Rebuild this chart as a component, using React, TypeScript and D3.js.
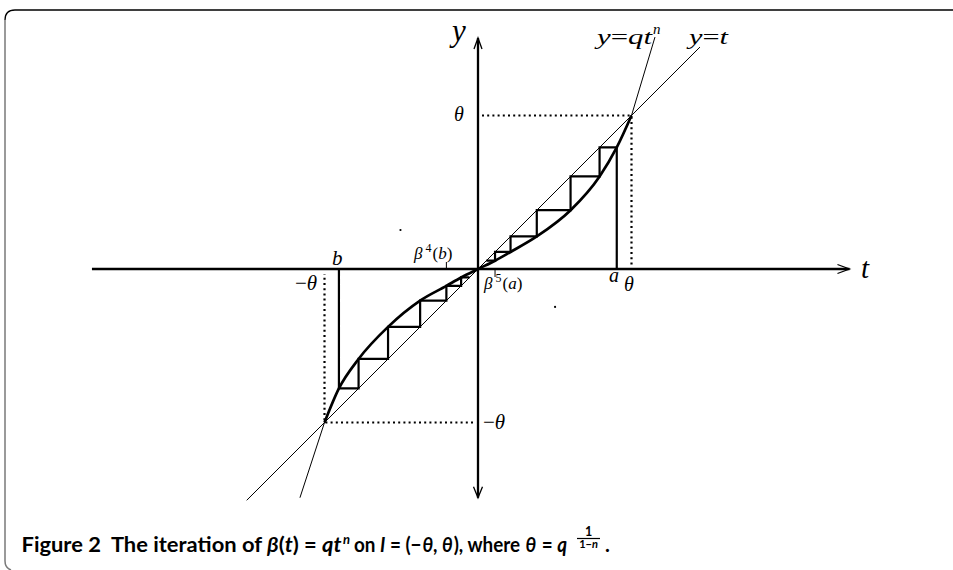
import React from 'react'
import * as d3 from 'd3'

// everything is measured in units of theta (theta = 1)
const theta = 1
// cobweb iterates a, β(a), β²(a), ... and b, β(b), ...
const iteratesA = [0.904, 0.792, 0.603, 0.383, 0.212, 0.111, 0.054]
const iteratesB = [-0.906, -0.778, -0.586, -0.377, -0.206, -0.11, -0.055]
// where the drawn lines stop
const tAxisEnds = [-2.515, 2.42]
const yAxisEnds = [-1.49, 1.505]
const diagonalEnds = [-1.507, 1.446]
// thin continuation of y = q t^n beyond ±theta
const outerTop = [1.153, 1.511]
const outerBottom = [-1.16, -1.49]
// two stray dots in the scan
const strayDots = [[-0.505, 0.254], [0.502, -0.247]]

const x = d3.scaleLinear().domain([0, theta]).range([478, 631.5])
const y = d3.scaleLinear().domain([0, theta]).range([269, 115.5])

const mathFont = '"Liberation Serif", "DejaVu Serif", serif'
const capFont = 'Lato, "Noto Sans", sans-serif'

const cobweb = (it: number[]) => {
  let p = `M${x(it[0])},${y(0)}`
  for (let i = 0; i < it.length - 1; i += 1) {
    p += `L${x(it[i])},${y(it[i + 1])}L${x(it[i + 1])},${y(it[i + 1])}`
  }
  return p
}

// points of the thick curve: (β^k, β^(k+1)) pairs plus origin and ±theta
const curvePoints: [number, number][] = [
  [-theta, -theta],
  ...iteratesB.slice(0, -1).map((v, i) => [v, iteratesB[i + 1]] as [number, number]),
  [0, 0],
  ...iteratesA.slice(0, -1).map((v, i) => [v, iteratesA[i + 1]] as [number, number]).reverse(),
  [theta, theta],
]

const thickCurve = d3.line<[number, number]>()
  .x(d => x(d[0]))
  .y(d => y(d[1]))
  .curve(d3.curveMonotoneX)

const seg = (a: number[], b: number[]) => `M${x(a[0])},${y(a[1])}L${x(b[0])},${y(b[1])}`

export default function App() {
  const tx0 = x(tAxisEnds[0])
  const tx1 = x(tAxisEnds[1])
  const yTop = y(yAxisEnds[1])
  const yBot = y(yAxisEnds[0])
  const ox = x(0)
  const oy = y(0)
  const it = { fontFamily: mathFont, fontStyle: 'italic' as const }

  return (
    <svg
      width={953}
      height={570}
      style={{ position: 'absolute', left: 0, top: 0, background: '#fff' }}
    >
      {/* frame */}
      <path d="M5,20 Q5,10 15,10 L953,10" fill="none" stroke="#000" strokeWidth={1.3} />
      <path d="M5,20 L5,561 Q5,568 11,570" fill="none" stroke="#7a7a7a" strokeWidth={1.5} />

      {/* axes */}
      <g stroke="#000" strokeWidth={2.3} fill="none">
        <path d={`M${tx0},${oy}L${tx1},${oy}`} />
        <path d={`M${ox},${yTop}L${ox},${yBot}`} />
      </g>
      <g stroke="#000" strokeWidth={1.3} fill="none">
        <path d={`M${tx1 - 12},${oy - 4.5}L${tx1},${oy}L${tx1 - 12},${oy + 4.5}`} />
        <path d={`M${ox - 4},${yTop + 11}L${ox},${yTop}L${ox + 4},${yTop + 11}`} />
        <path d={`M${ox - 4.5},${yBot - 11}L${ox},${yBot}L${ox + 4.5},${yBot - 11}`} />
      </g>

      {/* dotted theta box */}
      <g stroke="#000" strokeWidth={2.2} strokeDasharray="2,3.2" fill="none">
        <path d={`M${x(0) + 4},${y(theta)}L${x(theta)},${y(theta)}L${x(theta)},${y(0) - 4}`} />
        <path d={`M${x(0) - 5},${y(-theta)}L${x(-theta)},${y(-theta)}L${x(-theta)},${y(0) + 5}`} />
      </g>

      {/* thin lines: y = t and outer branches of y = q t^n */}
      <g stroke="#000" strokeWidth={1} fill="none">
        <path d={seg([diagonalEnds[0], diagonalEnds[0]], [diagonalEnds[1], diagonalEnds[1]])} />
        <path d={seg([theta, theta], outerTop)} />
        <path d={seg([-theta, -theta], outerBottom)} />
      </g>

      {/* thick curve on I */}
      <path d={thickCurve(curvePoints) || ''} fill="none" stroke="#000" strokeWidth={2.7} />

      {/* cobwebs */}
      <g stroke="#000" strokeWidth={2.2} fill="none" strokeLinejoin="miter">
        <path d={cobweb(iteratesA)} />
        <path d={cobweb(iteratesB)} />
        <path d={`M${x(iteratesA[5])},${oy}L${x(iteratesA[5])},${oy + 8}`} strokeWidth={1} />
        <path d={`M${x(iteratesB[4])},${oy}L${x(iteratesB[4])},${oy - 7}`} strokeWidth={1} />
      </g>

      {strayDots.map((d, i) => (
        <circle key={i} cx={x(d[0])} cy={y(d[1])} r={1.1} fill="#000" />
      ))}

      {/* labels */}
      <text x={452} y={41} fontSize={31} {...it}>y</text>
      <text x={861} y={278} fontSize={29} {...it}>t</text>
      <text x={597} y={44} fontSize={21} {...it} textLength={55} lengthAdjust="spacingAndGlyphs">
        y<tspan fontStyle="normal">=</tspan>qt
      </text>
      <text x={653} y={34} fontSize={15} {...it}>n</text>
      <text x={689} y={44} fontSize={21} {...it} textLength={39} lengthAdjust="spacingAndGlyphs">
        y<tspan fontStyle="normal">=</tspan>t
      </text>
      <text x={454} y={121} fontSize={20} {...it}>θ</text>
      <text x={483} y={429} fontSize={21} fontFamily={mathFont}>
        −<tspan fontStyle="italic">θ</tspan>
      </text>
      <text x={295} y={290} fontSize={21} fontFamily={mathFont}>
        −<tspan fontStyle="italic">θ</tspan>
      </text>
      <text x={332} y={265} fontSize={21} {...it}>b</text>
      <text x={609} y={282} fontSize={20} {...it}>a</text>
      <text x={624} y={291} fontSize={20} {...it}>θ</text>
      <text x={414} y={259} fontSize={17} fontFamily={mathFont}>
        <tspan fontStyle="italic">β</tspan>
        <tspan fontSize={12} dx={3} dy={-7}>4</tspan>
        <tspan dx={1} dy={7}>(</tspan>
        <tspan fontStyle="italic">b</tspan>)
      </text>
      <text x={484} y={289} fontSize={17} fontFamily={mathFont}>
        <tspan fontStyle="italic">β</tspan>
        <tspan fontSize={12} dx={3} dy={-7}>5</tspan>
        <tspan dx={1} dy={7}>(</tspan>
        <tspan fontStyle="italic">a</tspan>)
      </text>

      {/* caption */}
      <g fontFamily={capFont} fontWeight="bold" fill="#000">
        <text x={21.5} y={552} fontSize={20.5} textLength={320} lengthAdjust="spacingAndGlyphs" style={{ whiteSpace: 'pre' }}>
          {'Figure 2  The iteration of '}
          <tspan fontStyle="italic">β</tspan>(<tspan fontStyle="italic">t</tspan>) = <tspan fontStyle="italic">qt</tspan>
        </text>
        <text x={343} y={544} fontSize={13} fontStyle="italic">n</text>
        <text x={354} y={552} fontSize={20.5} textLength={213} lengthAdjust="spacingAndGlyphs" style={{ whiteSpace: 'pre' }}>
          {'on '}
          <tspan fontStyle="italic">I</tspan>{' = (−'}<tspan fontStyle="italic" dx={1}>θ</tspan>{', '}
          <tspan fontStyle="italic">θ</tspan><tspan dx={1}>{'), where '}</tspan><tspan fontStyle="italic" dx={1}>θ</tspan>
          <tspan dx={1}>{' = '}</tspan>
          <tspan fontStyle="italic">q</tspan>
        </text>
        <text x={588.5} y={535.5} fontSize={12.5} textAnchor="middle">1</text>
        <line x1={577} x2={600} y1={538.5} y2={538.5} stroke="#000" strokeWidth={1.2} />
        <text x={588.5} y={548} fontSize={11} textAnchor="middle">1−<tspan fontStyle="italic">n</tspan></text>
        <text x={605} y={552} fontSize={20.5}>.</text>
      </g>
    </svg>
  )
}
